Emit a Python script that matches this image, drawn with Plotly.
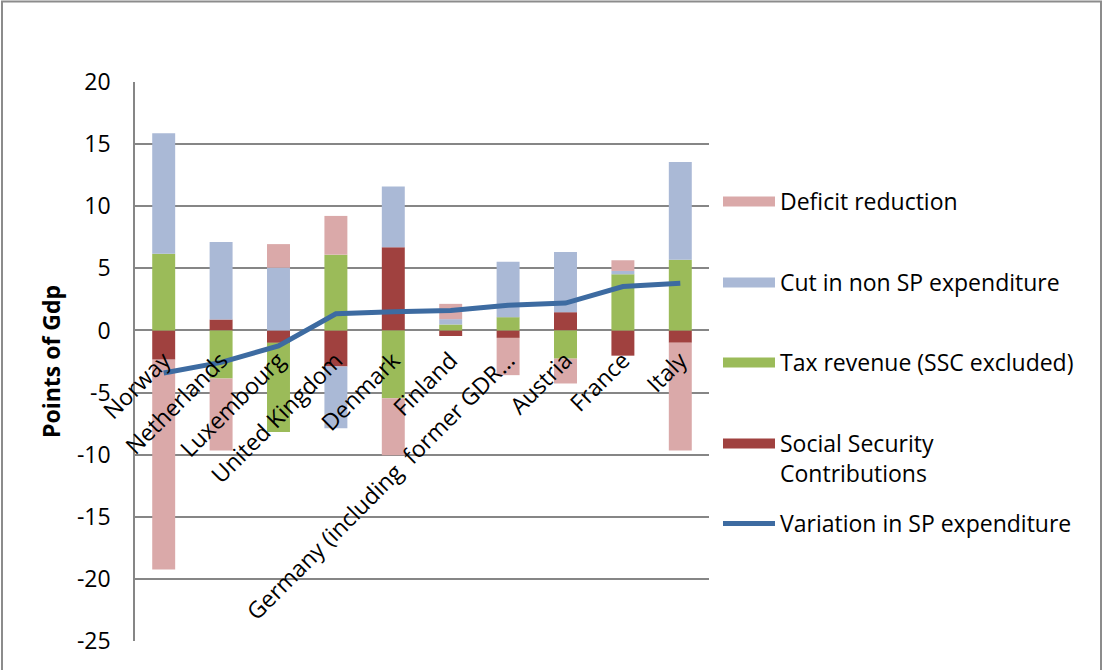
import plotly.graph_objects as go

countries = ["Norway", "Netherlands", "Luxembourg", "United Kingdom", "Denmark",
             "Finland", "Germany (including  former GDR...", "Austria", "France", "Italy"]
ssc = [-2.35, 0.88, -1.0, -2.9, 6.7, -0.45, -0.6, 1.47, -2.03, -0.99]
tax = [6.17, -3.87, -7.17, 6.1, -5.45, 0.48, 1.07, -2.27, 4.52, 5.69]
cut = [9.7, 6.23, 5.05, -4.97, 4.89, 0.43, 4.46, 4.84, 0.27, 7.86]
deficit = [-16.9, -5.8, 1.9, 3.12, -4.6, 1.23, -3.0, -2.0, 0.86, -8.68]
variation = [-3.42, -2.57, -1.25, 1.34, 1.5, 1.6, 2.03, 2.2, 3.53, 3.8]
y_ticks = [20, 15, 10, 5, 0, -5, -10, -15, -20, -25]
y_tick_text = ["20", "15", "10", "5", "0", "-5", "-10", "-15", "-20", "-25"]

C_SSC = "#A0413F"
C_TAX = "#9BBB59"
C_CUT = "#AAB9D6"
C_DEF = "#DAA9A9"
C_LINE = "#3D6BA1"
GRID = "#868686"
FONT = "Open Sans"
FS = 23

# plot area in pixels
L, R, T, B = 135, 709, 82, 641
W, H = R - L, B - T

def px_x(px):
    return (px - L) / W

def px_y(py):
    return (B - py) / H

fig = go.Figure()
for name, vals, col in [("Social Security<br>Contributions", ssc, C_SSC),
                        ("Tax revenue (SSC excluded)", tax, C_TAX),
                        ("Cut in non SP expenditure", cut, C_CUT),
                        ("Deficit reduction", deficit, C_DEF)]:
    fig.add_trace(go.Bar(x=countries, y=vals, name=name, marker_color=col,
                         marker_line_width=0, showlegend=False))

fig.add_trace(go.Scatter(x=countries, y=variation, mode="lines", name="Variation in SP expenditure",
                         line=dict(color=C_LINE, width=5), showlegend=False))

# legend entries (one legend per item, positioned like the original)
legend_items = [("Deficit reduction", C_DEF, 14, 200),
                ("Cut in non SP expenditure", C_CUT, 14, 281),
                ("Tax revenue (SSC excluded)", C_TAX, 14, 361),
                ("Social Security<br>Contributions", C_SSC, 14, 442),
                ("Variation in SP expenditure", C_LINE, 5, 522)]
layout_legends = {}
for i, (name, col, lw, ypx) in enumerate(legend_items):
    key = "legend" if i == 0 else f"legend{i+1}"
    fig.add_trace(go.Scatter(x=[None], y=[None], mode="lines", name=name,
                             line=dict(color=col, width=lw), legend=key, showlegend=True))
    layout_legends[key] = dict(x=px_x(718), y=px_y(ypx - 7 - 13), xanchor="left", yanchor="top",
                               itemwidth=52, valign="top", bgcolor="rgba(0,0,0,0)",
                               font=dict(family=FONT, size=FS, color="black"))

fig.update_layout(
    width=1102, height=670,
    margin=dict(l=L, r=1102 - R, t=T, b=670 - B),
    paper_bgcolor="white", plot_bgcolor="white",
    barmode="relative", bargap=0.6,
    font=dict(family=FONT, size=FS, color="black"),
    xaxis=dict(type="category", anchor="free", position=25 / 45, tickangle=-45,
               showgrid=False, showline=False, ticks="", ticklabelstandoff=11,
               tickfont=dict(family=FONT, size=FS, color="black")),
    yaxis=dict(range=[-25, 20], tickvals=y_ticks, ticktext=y_tick_text,
               showgrid=True, gridcolor=GRID, gridwidth=1.5,
               zeroline=True, zerolinecolor=GRID, zerolinewidth=1.5,
               showline=True, linecolor=GRID, linewidth=1.5, ticks="", ticklabelstandoff=18,
               tickfont=dict(family=FONT, size=FS, color="black"),
               title=dict(text="<b>Points of Gdp</b>", standoff=10,
                          font=dict(family=FONT, size=FS, color="black"))),
    shapes=[dict(type="rect", xref="paper", yref="paper",
                 x0=px_x(2), x1=px_x(1101), y0=px_y(700), y1=px_y(1.5),
                 line=dict(color="#8C8C8C", width=2), fillcolor="rgba(0,0,0,0)", layer="below")],
    **layout_legends,
)

fig.write_html("out.html", config={"displayModeBar": False},
               post_script="document.body.style.margin='0';")
